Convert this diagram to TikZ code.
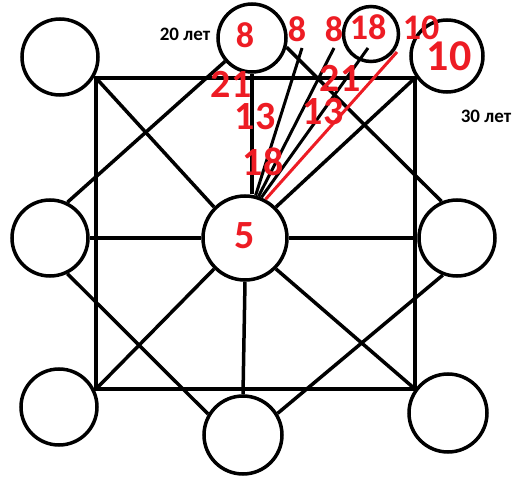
\documentclass[tikz,border=0pt]{standalone}
\usepackage{fontspec}
\setmainfont{Carlito}
\definecolor{pred}{RGB}{237,28,36}
\begin{document}
\begin{tikzpicture}[x=1pt,y=-1pt,line width=3.5pt,
  circ/.style={circle,draw,line width=3.5pt,inner sep=0pt,minimum size=#1},
  num/.style={text=pred,font=\bfseries\fontsize{#1}{#1}\selectfont,inner sep=0pt},
  age/.style={font=\bfseries\fontsize{19}{19}\selectfont,inner sep=0pt},
  redline/.style={draw=pred,line width=3pt}]
\useasboundingbox (0,0) rectangle (523,479);
% square corners
\coordinate (TL) at (96,78);
\coordinate (TR) at (415,78);
\coordinate (BL) at (96,389);
\coordinate (BR) at (415,389);
% circles
\node[circ=76pt] (ctl) at (60,57) {};
\node[circ=68pt] (ct) at (252,38) {};
\node[circ=55pt] (c18) at (371,34) {};
\node[circ=72pt] (cr10) at (447,56) {};
\node[circ=76pt] (cl) at (50,238) {};
\node[circ=84pt] (cc) at (245,238) {};
\node[circ=76pt] (cr) at (457,238) {};
\node[circ=76pt] (cbl) at (59,407) {};
\node[circ=78pt] (cb) at (243,435) {};
\node[circ=78pt] (cbr) at (448,413) {};
% square
\draw (TL) -- (TR) -- (BR) -- (BL) -- cycle;
% connectors
\draw (cl.east) -- (cc.west);
\draw (cc.east) -- (cr.west);
\draw (ct.south) -- (ct.south |- cc.north);
\draw (cc.south) -- (cb.north);
\draw (TL) -- (cc.135);
\draw (TR) -- (cc.45);
\draw (BL) -- (cc.225);
\draw (BR) -- (cc.-45);
\draw (cl.64) -- (ct.221);
\draw (cl.-64) -- (cb.149);
\draw (cr.249) -- (cb.32);
\draw (ct.-15) -- (cr.113);
% fan
\coordinate (f1) at (302,48);
\coordinate (f2) at (334,48);
\coordinate (f3) at (368,48);
\coordinate (f4) at (397,52);
\draw[line width=3pt] (cc.76) -- (f1);
\draw[line width=3pt] (cc.72) -- (f2);
\draw[line width=3pt] (cc.68) -- (f3);
\draw[redline] (cc.62) -- (f4);
% labels
\node[num=36] (l8a) at (245,35) {8};
\node[num=36] (l8b) at (297,29) {8};
\node[num=36] (l8c) at (334,29) {8};
\node[num=36] (l18a) at (368,27) {18};
\node[num=36] (l10a) at (421,28) {10};
\node[num=44] (l10b) at (449,56) {10};
\node[num=40] (l21a) at (231,84) {21};
\node[num=40] (l13a) at (255,117) {13};
\node[num=40] (l18b) at (263,162) {18};
\node[num=40] (l21b) at (340,78) {21};
\node[num=40] (l13b) at (323,112) {13};
\node[num=40] (l5) at (245,236) {5};
\node[age] (a20) at (185,34) {20 лет};
\node[age] (a30) at (486,116) {30 лет};
\end{tikzpicture}
\end{document}
